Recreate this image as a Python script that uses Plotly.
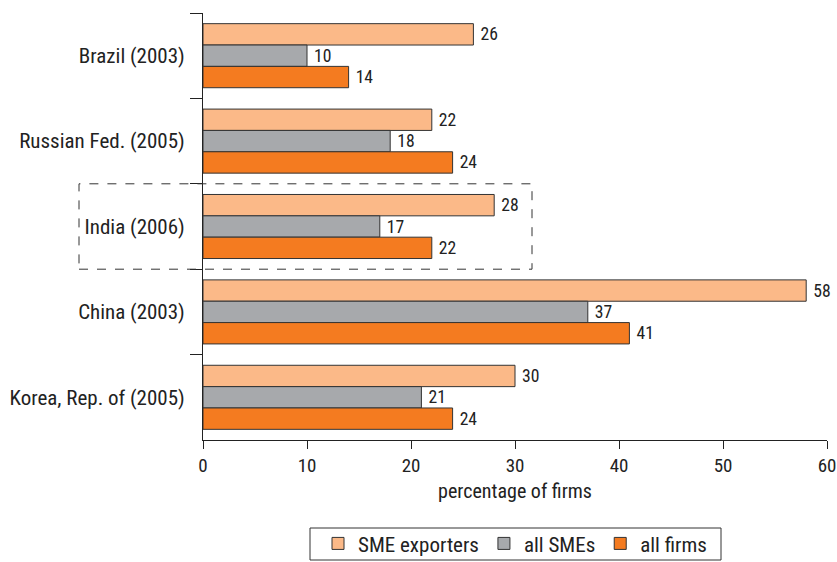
import plotly.graph_objects as go

countries = ["Brazil (2003)", "Russian Fed. (2005)", "India (2006)", "China (2003)", "Korea, Rep. of (2005)"]
sme_exporters = [26, 22, 28, 58, 30]
all_smes = [10, 18, 17, 37, 21]
all_firms = [14, 24, 22, 41, 24]
series_names = ["SME exporters", "all SMEs", "all firms"]
colors = ["#FBB988", "#A7A9AC", "#F47B20"]
x_ticks = [0, 10, 20, 30, 40, 50, 60]

FONT = "Roboto Condensed, Liberation Sans Narrow, Arial Narrow, sans-serif"

fig = go.Figure()
for name, vals, col in zip(series_names, [sme_exporters, all_smes, all_firms], colors):
    fig.add_trace(go.Bar(
        y=countries, x=vals, name=name, orientation="h",
        marker=dict(color=col, line=dict(color="#333333", width=1)),
        text=[" " + str(v) for v in vals], textposition="outside",
        textfont=dict(size=19, color="#222222", family=FONT),
        cliponaxis=False,
    ))

fig.update_layout(
    width=837, height=562,
    margin=dict(l=203, r=10, t=13, b=122, autoexpand=False),
    paper_bgcolor="white", plot_bgcolor="white",
    barmode="group", bargap=0.25, bargroupgap=0,
    font=dict(family=FONT, size=19, color="#222222"),
    showlegend=True,
    legend=dict(orientation="h", x=0.5, xanchor="center", y=-0.195, yanchor="top",
                borderwidth=0, bgcolor="rgba(0,0,0,0)", font=dict(size=21),
                traceorder="normal", itemwidth=30),
    xaxis=dict(range=[0, 60], tickvals=x_ticks, showline=True, linecolor="#222222",
               linewidth=1, ticks="outside", ticklen=8, tickcolor="#222222",
               showgrid=False, zeroline=False, automargin=False,
               tickfont=dict(size=19),
               title=dict(text="percentage of firms", standoff=8, font=dict(size=20))),
    yaxis=dict(autorange="reversed", showline=True, linecolor="#222222", linewidth=1,
               ticks="outside", ticklen=12, tickcolor="#222222", tickson="boundaries",
               showgrid=False, tickfont=dict(size=21), automargin=False,
               ticklabelstandoff=13),
)

# dashed highlight around India
fig.add_shape(type="rect", xref="paper", yref="paper",
              x0=(79 - 203) / 624, x1=(532 - 203) / 624, y0=0.4, y1=0.6,
              line=dict(color="#333333", width=1, dash="dash"), fillcolor="rgba(0,0,0,0)",
              layer="above")
# legend frame
fig.add_shape(type="rect", xref="paper", yref="paper",
              x0=(310 - 203) / 624, x1=(721 - 203) / 624,
              y0=(440 - 560) / 427, y1=(440 - 528) / 427,
              line=dict(color="#333333", width=1), fillcolor="rgba(0,0,0,0)",
              layer="above")

fig.write_html("out.html", config={"displayModeBar": False},
               post_script="document.body.style.margin='0';")
